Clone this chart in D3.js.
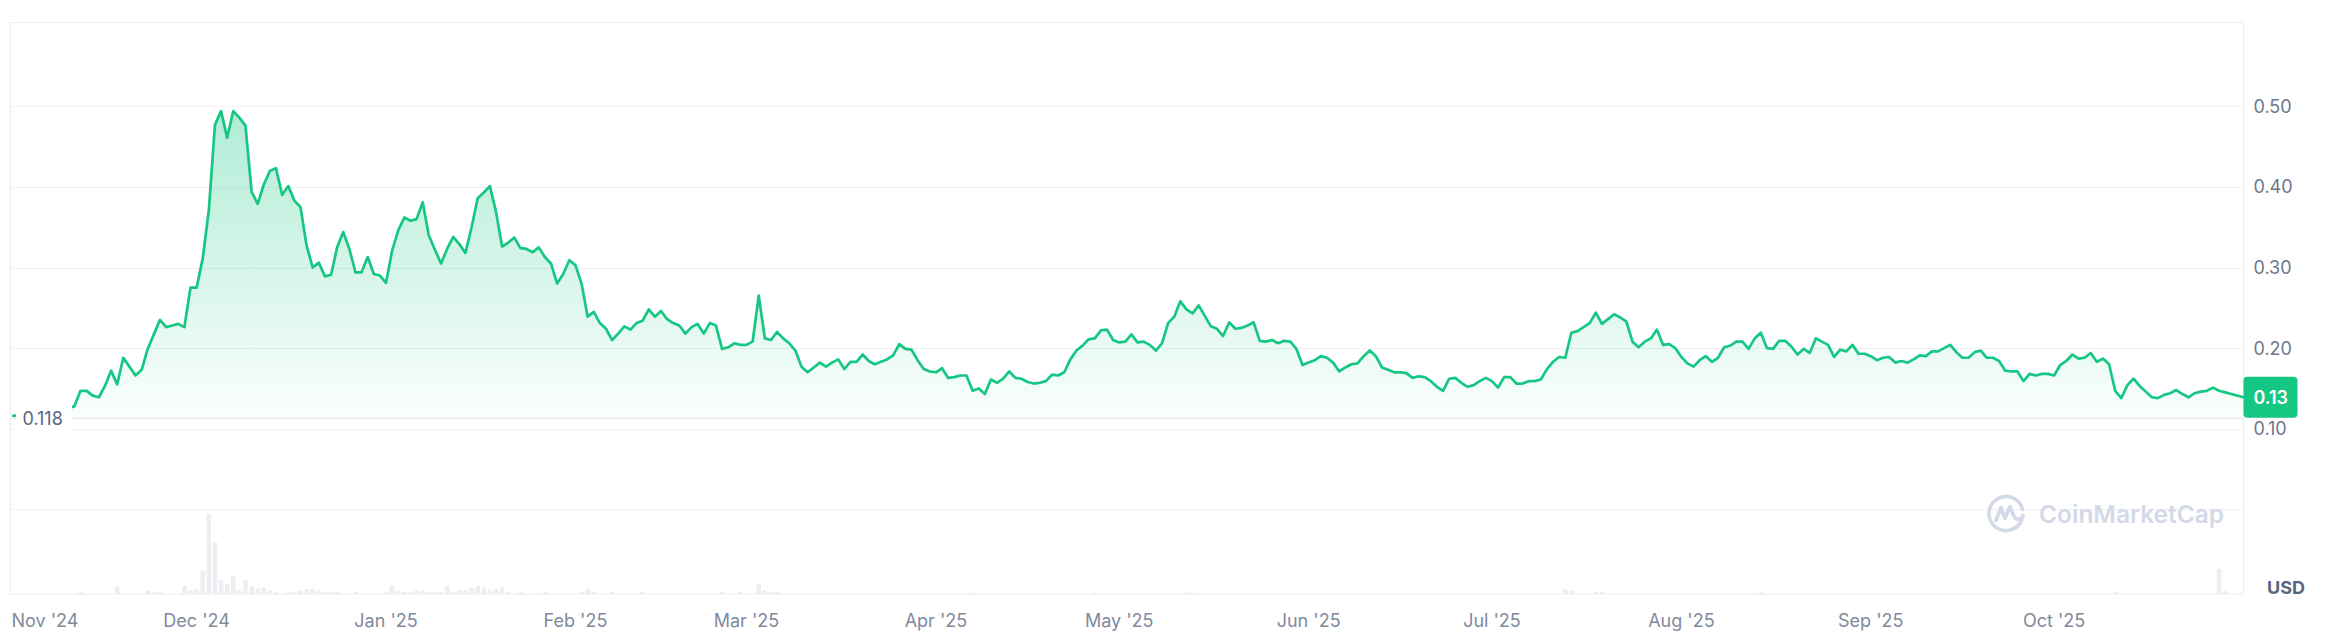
<!DOCTYPE html>
<html>
<head>
<meta charset="utf-8">
<script src="https://cdn.jsdelivr.net/npm/d3@7/dist/d3.min.js"></script>
<style>
  html, body { margin: 0; padding: 0; background: #ffffff; }
  svg { display: block; font-family: Inter, "Noto Sans", sans-serif; }
</style>
</head>
<body>
<svg id="chart" width="2341" height="631"></svg>
<script>
// ---------------- DATA ----------------
const startDate = "2024-11-01";          // first daily price point
const endDate = "2025-11-01";            // last daily price point
const prices = [
  0.116, 0.117, 0.115, 0.118, 0.120, 0.119, 0.121, 0.123, 0.122, 0.125,
  0.128, 0.147, 0.147, 0.141, 0.139, 0.153, 0.172, 0.155, 0.188, 0.177,
  0.166, 0.173, 0.199, 0.217, 0.235, 0.226, 0.228, 0.230, 0.226, 0.275,
  0.275, 0.311, 0.371, 0.477, 0.494, 0.461, 0.494, 0.486, 0.476, 0.394,
  0.379, 0.403, 0.420, 0.423, 0.390, 0.401, 0.383, 0.375, 0.327, 0.300,
  0.306, 0.289, 0.291, 0.325, 0.344, 0.323, 0.294, 0.294, 0.313, 0.292,
  0.290, 0.281, 0.321, 0.346, 0.362, 0.358, 0.360, 0.381, 0.340, 0.322,
  0.305, 0.323, 0.338, 0.329, 0.318, 0.350, 0.386, 0.393, 0.401, 0.369,
  0.326, 0.331, 0.337, 0.324, 0.323, 0.319, 0.325, 0.313, 0.305, 0.280,
  0.292, 0.309, 0.303, 0.280, 0.239, 0.245, 0.231, 0.224, 0.210, 0.218,
  0.227, 0.223, 0.231, 0.234, 0.248, 0.239, 0.246, 0.236, 0.231, 0.228,
  0.218, 0.226, 0.230, 0.218, 0.231, 0.228, 0.199, 0.201, 0.206, 0.204,
  0.204, 0.208, 0.265, 0.212, 0.210, 0.220, 0.212, 0.206, 0.197, 0.177,
  0.170, 0.176, 0.182, 0.177, 0.182, 0.186, 0.174, 0.183, 0.183, 0.192,
  0.184, 0.180, 0.183, 0.186, 0.191, 0.205, 0.199, 0.198, 0.185, 0.174,
  0.171, 0.170, 0.175, 0.163, 0.164, 0.166, 0.166, 0.147, 0.150, 0.143,
  0.161, 0.157, 0.162, 0.171, 0.163, 0.162, 0.158, 0.156, 0.157, 0.159,
  0.167, 0.166, 0.170, 0.186, 0.197, 0.203, 0.211, 0.212, 0.222, 0.223,
  0.210, 0.207, 0.208, 0.217, 0.207, 0.208, 0.204, 0.197, 0.206, 0.231,
  0.239, 0.258, 0.248, 0.243, 0.253, 0.240, 0.227, 0.224, 0.215, 0.232,
  0.224, 0.225, 0.228, 0.232, 0.209, 0.208, 0.210, 0.206, 0.209, 0.208,
  0.199, 0.179, 0.182, 0.185, 0.190, 0.188, 0.182, 0.171, 0.176, 0.180,
  0.181, 0.190, 0.197, 0.190, 0.176, 0.173, 0.170, 0.170, 0.169, 0.163,
  0.165, 0.164, 0.159, 0.152, 0.147, 0.162, 0.163, 0.157, 0.152, 0.154,
  0.159, 0.163, 0.159, 0.151, 0.164, 0.164, 0.156, 0.156, 0.159, 0.159,
  0.161, 0.174, 0.183, 0.189, 0.188, 0.219, 0.221, 0.226, 0.231, 0.244,
  0.230, 0.236, 0.242, 0.238, 0.233, 0.208, 0.201, 0.208, 0.212, 0.223,
  0.204, 0.205, 0.200, 0.189, 0.181, 0.177, 0.185, 0.190, 0.183, 0.188,
  0.201, 0.203, 0.208, 0.208, 0.199, 0.212, 0.219, 0.200, 0.199, 0.209,
  0.209, 0.202, 0.192, 0.199, 0.194, 0.212, 0.208, 0.204, 0.189, 0.198,
  0.196, 0.204, 0.193, 0.193, 0.190, 0.185, 0.188, 0.189, 0.182, 0.184,
  0.182, 0.186, 0.191, 0.190, 0.196, 0.196, 0.200, 0.204, 0.195, 0.188,
  0.188, 0.195, 0.197, 0.188, 0.188, 0.184, 0.172, 0.171, 0.171, 0.159,
  0.168, 0.166, 0.168, 0.168, 0.166, 0.179, 0.184, 0.192, 0.187, 0.188,
  0.194, 0.183, 0.187, 0.180, 0.147, 0.138, 0.154, 0.162, 0.153, 0.146,
  0.139, 0.138, 0.142, 0.144, 0.148, 0.143, 0.139, 0.144, 0.146, 0.147,
  0.151, 0.147, 0.145, 0.143, 0.141, 0.139
];
// volume (relative units) for the days where a bar is visible
const volumeDates = [
  "2024-11-12","2024-11-18","2024-11-23","2024-11-24","2024-11-25","2024-11-29","2024-11-30",
  "2024-12-01","2024-12-02","2024-12-03","2024-12-04","2024-12-05","2024-12-06","2024-12-07",
  "2024-12-08","2024-12-09","2024-12-10","2024-12-11","2024-12-12","2024-12-13","2024-12-14",
  "2024-12-16","2024-12-17","2024-12-18","2024-12-19","2024-12-20","2024-12-21","2024-12-22",
  "2024-12-23","2024-12-24","2024-12-27","2025-01-01","2025-01-02","2025-01-03","2025-01-04",
  "2025-01-05","2025-01-06","2025-01-07","2025-01-08","2025-01-09","2025-01-10","2025-01-11",
  "2025-01-12","2025-01-13","2025-01-14","2025-01-15","2025-01-16","2025-01-17","2025-01-18",
  "2025-01-19","2025-01-20","2025-01-21","2025-01-23","2025-01-27","2025-02-02","2025-02-03",
  "2025-02-04","2025-02-07","2025-02-12","2025-02-25","2025-02-28","2025-03-03","2025-03-04",
  "2025-03-05","2025-03-06","2025-04-07","2025-04-27","2025-05-12","2025-05-13","2025-07-13",
  "2025-07-14","2025-07-18","2025-07-19","2025-08-14","2025-10-11","2025-10-28","2025-10-29"
];
const volumeValues = [
  2, 7, 3.7, 2, 2, 8.3, 3.7,
  5, 23.3, 80.3, 52, 13.7, 10.3, 18.3,
  3.7, 13.7, 8.3, 5.3, 6.7, 3.7, 1.7,
  2, 2, 3.3, 5, 5, 3.7, 2,
  2, 2, 2, 1.7, 8.3, 3.7, 2,
  2, 3.7, 3.7, 2, 2, 2, 8.3,
  2, 3.7, 3.7, 6.7, 8.3, 6.7, 3.7,
  5, 6.7, 2, 2, 2, 2, 5.3,
  2, 2, 2, 2, 2, 10, 3.7,
  2, 2, 1.5, 1.5, 1.5, 1.5, 5,
  3, 2, 2, 1.7, 2, 25, 3
];
const priceTicks = [0.10, 0.20, 0.30, 0.40, 0.50];
const priceTickLabels = ["0.10", "0.20", "0.30", "0.40", "0.50"];
const baselineValue = 0.1127;
const baselineLabel = "0.118";
const lastPriceLabel = "0.13";
const currencyLabel = "USD";
const watermarkText = "CoinMarketCap";

// ---------------- CHART ----------------
const svg = d3.select("#chart");
const parse = d3.utcParse("%Y-%m-%d");
const t0 = parse(startDate), t1 = parse(endDate);
const dates = d3.utcDay.range(t0, d3.utcDay.offset(t1, 1));
const series = prices.map((v, i) => ({ date: dates[i], value: v }));
const vol = volumeDates.map((d, i) => ({ date: parse(d), value: volumeValues[i] }));

const frame = { left: 10.5, right: 2243.5, top: 22.5, bottom: 594 };
const x = d3.scaleUtc().domain([t0, t1]).range([13.3, 2243.5]);
const y = d3.scaleLinear().domain([0, 0.5]).range([509.3, 106.3]);
const vy = d3.scaleLinear().domain([0, 85]).range([594, 509]);

const defs = svg.append("defs");
const grad = defs.append("linearGradient")
  .attr("id", "areaGrad").attr("gradientUnits", "userSpaceOnUse")
  .attr("x1", 0).attr("x2", 0).attr("y1", y(0.5)).attr("y2", y(baselineValue));
grad.append("stop").attr("offset", 0).attr("stop-color", "#16c784").attr("stop-opacity", 0.34);
grad.append("stop").attr("offset", 1).attr("stop-color", "#16c784").attr("stop-opacity", 0.02);

// gridlines
const gridVals = [0].concat(priceTicks);
svg.append("g").selectAll("line").data(gridVals).join("line")
  .attr("x1", frame.left).attr("x2", frame.right)
  .attr("y1", d => Math.round(y(d)) + 0.5).attr("y2", d => Math.round(y(d)) + 0.5)
  .attr("stroke", "#eff1f4").attr("stroke-width", 1.2);

// frame
svg.append("rect")
  .attr("x", frame.left).attr("y", frame.top)
  .attr("width", frame.right - frame.left).attr("height", frame.bottom - frame.top)
  .attr("fill", "none").attr("stroke", "#eceef2").attr("stroke-width", 1.2);

// volume bars
svg.append("g").selectAll("rect").data(vol).join("rect")
  .attr("x", d => x(d.date) - 2.3).attr("width", 4.6)
  .attr("y", d => vy(d.value)).attr("height", d => vy(0) - vy(d.value))
  .attr("rx", 1.2)
  .attr("fill", "#eceef2");

// watermark
const wm = svg.append("g").attr("fill", "none").attr("stroke", "#d3d9e6").attr("stroke-width", 3.6)
  .attr("stroke-linecap", "round").attr("stroke-linejoin", "round");
const cx = 2006, cy = 513.5, r = 17;
wm.append("path").attr("d", d3.arc()({ innerRadius: r, outerRadius: r, startAngle: Math.PI * 0.62, endAngle: Math.PI * 2.42 }))
  .attr("transform", `translate(${cx},${cy})`);
wm.append("path").attr("d", `M${cx - 10},${cy + 7} L${cx - 5},${cy - 6} L${cx - 1},${cy + 5} L${cx + 4},${cy - 7} L${cx + 8},${cy + 3} C${cx + 11},${cy + 8} ${cx + 16},${cy + 5} ${cx + 17},${cy + 2}`);
svg.append("text").attr("x", 2039).attr("y", 523)
  .attr("font-size", 24.5).attr("font-weight", 600).attr("fill", "#d3d9e6")
  .text(watermarkText);

// baseline
svg.append("line")
  .attr("x1", frame.left).attr("x2", frame.right)
  .attr("y1", y(baselineValue)).attr("y2", y(baselineValue))
  .attr("stroke", "#f3e3e6").attr("stroke-width", 1);

// area + line
svg.append("path").datum(series)
  .attr("fill", "url(#areaGrad)")
  .attr("d", d3.area().x(d => x(d.date)).y0(y(baselineValue)).y1(d => y(d.value)));
svg.append("path").datum(series)
  .attr("fill", "none").attr("stroke", "#16c784").attr("stroke-width", 2.7)
  .attr("stroke-linejoin", "round").attr("stroke-linecap", "round")
  .attr("d", d3.line().x(d => x(d.date)).y(d => y(d.value)));

// baseline label
svg.append("rect").attr("x", 16).attr("y", 404).attr("width", 56).attr("height", 27).attr("fill", "#ffffff");
svg.append("text").attr("x", 22.5).attr("y", y(baselineValue) + 0.5)
  .attr("dominant-baseline", "central")
  .attr("font-size", 18).attr("fill", "#58667e").text(baselineLabel);

// y labels
svg.append("g").selectAll("text").data(priceTicks).join("text")
  .attr("x", 2253.5).attr("y", d => y(d))
  .attr("dominant-baseline", "central")
  .attr("font-size", 18).attr("fill", "#6c778b")
  .text((d, i) => priceTickLabels[i]);

// last price tag
const lastY = y(prices[prices.length - 1]);
svg.append("rect").attr("x", 2243.5).attr("y", lastY - 20.5).attr("width", 54).attr("height", 41)
  .attr("rx", 4).attr("fill", "#16c784");
svg.append("text").attr("x", 2253.5).attr("y", lastY)
  .attr("dominant-baseline", "central")
  .attr("font-size", 18).attr("font-weight", 600).attr("fill", "#ffffff").text(lastPriceLabel);

// USD
svg.append("text").attr("x", 2267).attr("y", 587)
  .attr("dominant-baseline", "central")
  .attr("font-size", 18).attr("font-weight", 700).attr("fill", "#58667e").text(currencyLabel);

// x labels (month starts)
const months = d3.utcMonth.range(t0, t1);
const fmt = d3.utcFormat("%b '%y");
svg.append("g").selectAll("text").data(months).join("text")
  .attr("x", d => x(d)).attr("y", 620)
  .attr("dominant-baseline", "central")
  .attr("text-anchor", "middle")
  .attr("font-size", 18).attr("fill", "#808a9d")
  .text(d => fmt(d))
  .each(function () {
    const w = this.getComputedTextLength();
    const cxp = +this.getAttribute("x");
    if (cxp - w / 2 < 11.5) this.setAttribute("x", 11.5 + w / 2);
  });
</script>
</body>
</html>
